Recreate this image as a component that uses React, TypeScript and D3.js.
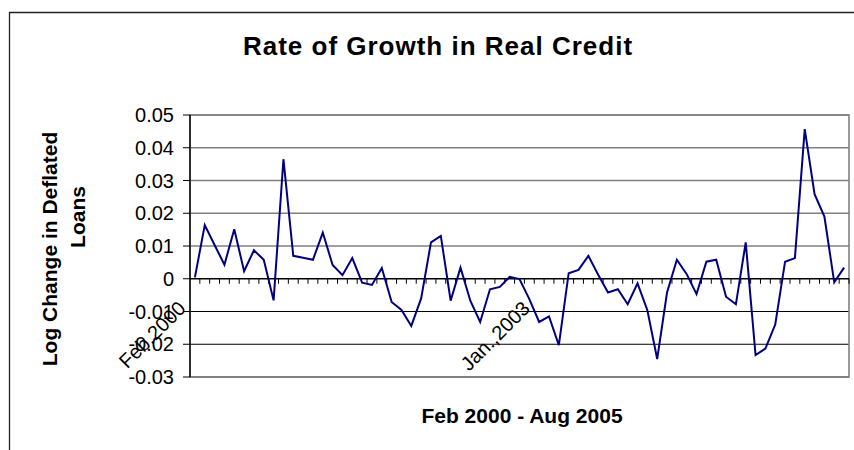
import React from "react";
import * as d3 from "d3";

const monthNames = ["Jan", "Feb", "Mar", "Apr", "May", "Jun", "Jul", "Aug", "Sep", "Oct", "Nov", "Dec"];
const startYear = 2000;
const startMonth = 1; // Feb
const nMonths = 67;
const categories: string[] = d3.range(nMonths).map((i) => {
  const m = startMonth + i;
  return `${monthNames[m % 12]} ${startYear + Math.floor(m / 12)}`;
});

const values = [
  0.0004, 0.0164, 0.0103, 0.0043, 0.0151, 0.0023, 0.0087, 0.0058, -0.0066, 0.0365,
  0.007, 0.0064, 0.0058, 0.0141, 0.0042, 0.0011, 0.0063, -0.0012, -0.0019, 0.0033,
  -0.0071, -0.0095, -0.0144, -0.006, 0.0111, 0.0131, -0.0067, 0.0034, -0.0067, -0.0132,
  -0.0032, -0.0025, 0.0006, -0.0001, -0.0062, -0.0132, -0.0115, -0.0203, 0.0017, 0.0027,
  0.007, 0.0012, -0.0042, -0.0032, -0.0078, -0.0014, -0.0096, -0.0245, -0.0042, 0.0058,
  0.0014, -0.0047, 0.0052, 0.0058, -0.0055, -0.0078, 0.0111, -0.0233, -0.0213, -0.014,
  0.0052, 0.0063, 0.0457, 0.0258, 0.019, -0.0011, 0.0034,
];

const yTicks = [0.05, 0.04, 0.03, 0.02, 0.01, 0, -0.01, -0.02, -0.03];
const yTickLabels = ["0.05", "0.04", "0.03", "0.02", "0.01", "0", "-0.01", "-0.02", "-0.03"];
const xLabelIndices = [0, 35];
const xLabels = ["Feb.2000", "Jan.,2003"];

const title = "Rate of Growth in Real Credit";
const xTitle = "Feb 2000 - Aug 2005";
const yTitleLines = ["Log Change in Deflated", "Loans"];

const W = 854;
const H = 450;
const plot = { left: 190, right: 849, top: 115, bottom: 377 };
const FONT = "'Liberation Sans', Arial, Helvetica, sans-serif";
const yTitlePos = [
  { x: 57, y: 249 },
  { x: 85, y: 217 },
];

export default function App() {
  const x = d3.scaleBand<string>().domain(categories).range([plot.left, plot.right]).padding(0);
  const y = d3.scaleLinear().domain([-0.03, 0.05]).range([plot.bottom, plot.top]);
  const cx = (i: number) => (x(categories[i]) as number) + x.bandwidth() / 2;
  const line = d3
    .line<number>()
    .x((_, i) => cx(i))
    .y((d) => y(d));
  const y0 = y(0);
  const boundaries = d3.range(1, nMonths + 1).map((k) => plot.left + x.bandwidth() * k);

  return (
    <svg
      width={W}
      height={H}
      style={{ position: "absolute", left: 0, top: 0, background: "#fff" }}
      fontFamily={FONT}
    >
      <rect x={0} y={0} width={W} height={H} fill="#fff" />
      {/* outer chart frame */}
      <path d={`M9.5,${H + 2} L9.5,12.5 L${W + 2},12.5`} fill="none" stroke="#222" strokeWidth={1.3} />

      {/* title */}
      <text x={438} y={55} textAnchor="middle" fontSize={26} fontWeight="bold" letterSpacing={1} fill="#000">
        {title}
      </text>

      {/* gridlines */}
      {yTicks.map((t) => {
        const yy = y(t);
        if (t === 0) return null;
        const above = t > 0;
        return (
          <line
            key={"g" + t}
            x1={plot.left}
            x2={plot.right}
            y1={yy}
            y2={yy}
            stroke={above ? "#808080" : "#000"}
            strokeWidth={above ? 1.6 : 1}
          />
        );
      })}
      {/* plot border */}
      <rect
        x={plot.left}
        y={plot.top}
        width={plot.right - plot.left}
        height={plot.bottom - plot.top}
        fill="none"
        stroke="#808080"
        strokeWidth={1.6}
      />

      {/* y axis */}
      <line x1={plot.left} x2={plot.left} y1={plot.top} y2={plot.bottom} stroke="#000" strokeWidth={1.4} />
      {yTicks.map((t, i) => (
        <g key={"yt" + t}>
          <line x1={plot.left - 7} x2={plot.left} y1={y(t)} y2={y(t)} stroke="#000" strokeWidth={1} />
          <text x={174} y={y(t)} dy="0.36em" textAnchor="end" fontSize={20} fill="#000">
            {yTickLabels[i]}
          </text>
        </g>
      ))}

      {/* x axis at zero */}
      <line x1={plot.left} x2={plot.right} y1={y0} y2={y0} stroke="#000" strokeWidth={1.4} />
      {boundaries.map((bx, k) => (
        <line key={"xt" + k} x1={bx} x2={bx} y1={y0} y2={y0 + 5} stroke="#000" strokeWidth={1} />
      ))}
      {xLabelIndices.map((idx, i) => (
        <text
          key={"xl" + idx}
          transform={`translate(${cx(idx) - 8},${y0 + 31}) rotate(-45)`}
          textAnchor="end"
          fontSize={20}
          fill="#000"
        >
          {xLabels[i]}
        </text>
      ))}

      {/* data line */}
      <path d={line(values) as string} fill="none" stroke="#000080" strokeWidth={2} strokeLinejoin="miter" />

      {/* axis titles */}
      <text x={522} y={423} textAnchor="middle" fontSize={21} fontWeight="bold" fill="#000">
        {xTitle}
      </text>
      {yTitleLines.map((ln, i) => (
        <text
          key={"yl" + i}
          transform={`translate(${yTitlePos[i].x},${yTitlePos[i].y}) rotate(-90)`}
          textAnchor="middle"
          fontSize={21}
          fontWeight="bold"
          fill="#000"
        >
          {ln}
        </text>
      ))}
    </svg>
  );
}
